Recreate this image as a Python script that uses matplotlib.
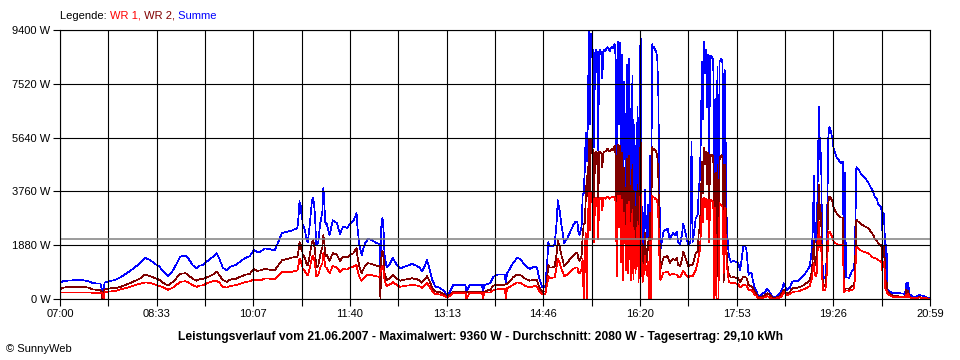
import numpy as np
import matplotlib
matplotlib.use('Agg')
from matplotlib import pyplot as plt

plt.rcParams['font.family'] = ['Liberation Sans', 'DejaVu Sans']

# minutes after 07:00
minutes = [0, 3, 10, 22, 28, 32, 39, 41, 42, 43,
           48, 53, 58, 63, 68, 74, 78, 82, 87, 92,
           95, 99, 104, 109, 116, 121, 123, 128, 132, 135,
           138, 142, 147, 151, 154, 157, 161, 164, 169, 174,
           178, 183, 187, 190, 193, 198, 207, 210, 214, 219,
           224, 229, 230, 231, 232, 233, 234, 236, 238, 239,
           241, 243, 244, 245, 246, 247, 249, 251, 253, 254,
           255, 256, 257, 260, 263, 267, 270, 273, 277, 280,
           283, 286, 287, 289, 291, 292, 294, 297, 301, 304,
           307, 308, 309, 310, 311, 312, 313, 315, 318, 321,
           325, 328, 333, 338, 339, 344, 347, 349, 352, 354,
           356, 359, 362, 366, 371, 373, 376, 379, 383, 391,
           392, 395, 407, 408, 409, 415, 418, 422, 427, 429,
           430, 431, 434, 437, 441, 444, 448, 453, 458, 460,
           462, 465, 468, 470, 471, 472, 474, 477, 479, 480,
           482, 484, 485, 486, 489, 492, 495, 497, 499, 500,
           501, 503, 504, 505, 506, 507, 508, 509, 510, 511,
           512, 513, 514, 515, 516, 517, 518, 519, 520, 521,
           522, 523, 524, 525, 526, 527, 528, 529, 530, 531,
           532, 533, 534, 535, 536, 537, 538, 539, 540, 541,
           542, 543, 544, 545, 546, 547, 548, 549, 550, 551,
           552, 553, 554, 555, 556, 557, 558, 559, 560, 561,
           562, 563, 564, 565, 566, 567, 568, 569, 570, 571,
           572, 573, 574, 575, 576, 577, 578, 579, 582, 586,
           588, 591, 593, 595, 596, 598, 600, 601, 603, 605,
           606, 608, 609, 610, 611, 613, 615, 616, 617, 618,
           619, 620, 621, 622, 623, 624, 625, 626, 627, 628,
           629, 630, 631, 632, 633, 634, 635, 636, 637, 638,
           639, 640, 641, 643, 644, 645, 647, 650, 654, 656,
           659, 661, 662, 664, 665, 667, 668, 670, 672, 673,
           675, 678, 680, 682, 685, 688, 691, 694, 696, 698,
           701, 704, 706, 709, 712, 714, 717, 720, 723, 724,
           725, 726, 727, 728, 729, 730, 731, 732, 733, 734,
           735, 736, 738, 739, 740, 741, 742, 743, 745, 746,
           748, 749, 751, 753, 755, 756, 757, 758, 761, 762,
           764, 765, 766, 767, 768, 769, 771, 773, 776, 779,
           781, 784, 786, 788, 789, 791, 792, 793, 794, 795,
           796, 797, 798, 800, 803, 810, 815, 816, 817, 818,
           819, 822, 825, 828, 829, 833, 836, 839]

wr1 = [220, 230, 230, 230, 225, 220, 220, 220, 0, 240,
       260, 280, 330, 380, 430, 500, 540, 580, 560, 500,
       470, 420, 320, 400, 600, 620, 600, 480, 430, 470,
       480, 560, 620, 650, 560, 430, 400, 450, 480, 530,
       580, 620, 680, 660, 650, 720, 700, 800, 950, 950,
       950, 1000, 1180, 1420, 1250, 1350, 1050, 980, 850, 820,
       1100, 1450, 1500, 1400, 1200, 800, 820, 1100, 1250, 1600,
       1350, 1100, 1100, 900, 1150, 1100, 950, 1050, 1030, 1100,
       1130, 1200, 1000, 740, 640, 690, 780, 850, 830, 800,
       780, 780, 900, 1100, 1150, 1000, 640, 460, 500, 600,
       480, 430, 460, 480, 500, 470, 440, 390, 480, 560,
       450, 270, 170, 160, 100, 50, 100, 221, 221, 221,
       0, 221, 221, 0, 221, 230, 310, 340, 360, 360,
       0, 370, 430, 500, 580, 560, 470, 400, 460, 440,
       290, 163, 170, 560, 800, 740, 740, 760, 1129, 1400,
       1250, 1000, 950, 800, 850, 950, 1050, 1100, 1100, 920,
       900, 1030, 1400, 0, 1800, 2300, 0, 2500, 3760, 2400,
       3700, 3550, 3500, 2000, 3500, 3550, 3500, 2100, 3500, 3550,
       3500, 3100, 3550, 3550, 3500, 3550, 3560, 3550, 3500, 3550,
       3550, 3560, 3560, 3550, 3350, 800, 3600, 2500, 3600, 1300,
       3450, 650, 3000, 2200, 1000, 3300, 900, 3400, 1400, 650,
       3100, 700, 2400, 900, 1800, 2700, 600, 3400, 3650, 1100,
       600, 900, 1500, 1100, 850, 1300, 0, 2000, 0, 3600,
       3550, 3550, 3500, 3500, 3400, 2900, 1500, 650, 920, 950,
       840, 880, 860, 850, 780, 760, 900, 980, 880, 780,
       760, 800, 800, 800, 850, 1000, 1300, 1500, 1700, 2300,
       3500, 2700, 3550, 3200, 3500, 2800, 3450, 2000, 3450, 3450,
       3400, 3400, 0, 3200, 0, 0, 0, 3350, 3300, 3280,
       3200, 900, 3200, 1150, 950, 600, 560, 560, 520, 410,
       500, 480, 470, 320, 320, 300, 280, 150, 100, 30,
       20, 40, 60, 100, 40, 0, 20, 50, 100, 240,
       130, 170, 230, 260, 260, 300, 340, 380, 450, 580,
       700, 1000, 1250, 850, 800, 950, 2060, 2700, 1800, 1900,
       750, 300, 320, 500, 1400, 2300, 2350, 2300, 2150, 2000,
       1950, 1920, 1900, 1900, 1900, 250, 260, 300, 290, 300,
       320, 330, 400, 1000, 1830, 1800, 1740, 1680, 1640, 1600,
       1560, 1450, 1420, 1400, 1360, 1320, 1310, 1000, 1300, 1280,
       300, 320, 180, 130, 80, 60, 60, 160, 60, 190,
       60, 30, 20, 50, 50, 40, 20, 5]

wr2 = [340, 400, 420, 430, 390, 330, 320, 0, 320, 330,
       370, 380, 420, 490, 560, 660, 730, 860, 800, 720,
       690, 580, 470, 600, 880, 900, 860, 700, 640, 700,
       700, 760, 840, 960, 820, 660, 600, 680, 700, 780,
       840, 880, 1040, 980, 1000, 1050, 1000, 1150, 1350, 1400,
       1450, 1480, 1700, 2000, 1750, 1900, 1550, 1450, 1200, 1180,
       1550, 2000, 2050, 1900, 1700, 1100, 1150, 1550, 1800, 2250,
       1900, 1500, 1550, 1330, 1600, 1550, 1330, 1480, 1450, 1550,
       1600, 1780, 1450, 1080, 900, 1000, 1150, 1250, 1220, 1180,
       1150, 1150, 0, 1600, 1680, 1450, 900, 660, 730, 830,
       700, 640, 680, 710, 730, 690, 650, 570, 700, 800,
       650, 390, 260, 240, 160, 90, 150, 256, 256, 256,
       256, 256, 256, 256, 256, 330, 470, 500, 500, 500,
       520, 520, 640, 760, 860, 840, 720, 640, 680, 660,
       440, 256, 260, 820, 1190, 1100, 1100, 1130, 1596, 2050,
       1800, 1450, 1350, 1150, 1250, 1400, 1530, 1600, 1600, 1380,
       1330, 1500, 2200, 2600, 2650, 3500, 4300, 3600, 5600, 3700,
       5550, 5250, 5200, 3300, 5100, 5150, 5100, 3100, 5150, 5150,
       5100, 4600, 5100, 5150, 5150, 5200, 5250, 5200, 5150, 5200,
       5250, 5200, 5300, 5350, 4950, 1200, 5400, 3600, 5350, 1700,
       5100, 1000, 4600, 3300, 1500, 4900, 1300, 5000, 2100, 900,
       4700, 1100, 3700, 1200, 2700, 4000, 900, 5000, 5450, 1700,
       900, 1300, 2300, 1600, 1300, 2000, 1700, 3000, 2000, 5300,
       5200, 5250, 5200, 5150, 5000, 4300, 2300, 1050, 1450, 1500,
       1250, 1420, 1350, 1450, 1200, 1150, 1400, 1650, 1450, 1250,
       1150, 1200, 1200, 1200, 1300, 1600, 1650, 2350, 2500, 3300,
       4800, 3700, 5300, 4700, 5150, 4000, 5100, 2900, 5050, 5050,
       5000, 5000, 1500, 4400, 1200, 4700, 300, 4850, 5000, 5030,
       4900, 600, 4700, 1450, 1100, 850, 750, 760, 720, 600,
       790, 760, 740, 490, 480, 420, 380, 250, 150, 80,
       70, 100, 130, 200, 140, 20, 60, 100, 200, 310,
       180, 250, 370, 380, 400, 430, 480, 560, 670, 800,
       950, 1450, 2050, 1300, 1200, 1450, 2990, 3980, 2800, 3000,
       900, 450, 480, 800, 2000, 3400, 3580, 3550, 3400, 3200,
       3050, 3000, 2900, 2850, 2850, 330, 340, 370, 360, 380,
       450, 460, 540, 1500, 2780, 2720, 2680, 2600, 2540, 2480,
       2400, 2250, 2100, 2030, 1950, 1900, 1880, 1250, 1870, 1850,
       430, 650, 250, 190, 110, 90, 85, 320, 85, 290,
       80, 30, 20, 60, 60, 50, 25, 5]

summe = [560, 630, 650, 660, 615, 550, 540, 220, 320, 570,
         630, 660, 750, 870, 990, 1160, 1270, 1440, 1360, 1220,
         1160, 1000, 790, 1000, 1480, 1520, 1460, 1180, 1070, 1170,
         1180, 1320, 1460, 1610, 1380, 1090, 1000, 1130, 1180, 1310,
         1420, 1500, 1720, 1640, 1650, 1770, 1700, 1950, 2300, 2350,
         2400, 2480, 2880, 3420, 3000, 3250, 2600, 2430, 2050, 2000,
         2650, 3450, 3550, 3300, 2900, 1900, 1970, 2650, 3050, 3900,
         3250, 2600, 2650, 2230, 2750, 2650, 2280, 2530, 2480, 2650,
         2730, 3000, 2450, 1820, 1540, 1690, 1930, 2100, 2050, 1980,
         1930, 1930, 900, 2700, 2830, 2450, 1540, 1120, 1230, 1430,
         1180, 1070, 1140, 1190, 1230, 1160, 1090, 960, 1180, 1360,
         1100, 660, 430, 400, 260, 140, 250, 480, 480, 480,
         256, 480, 480, 256, 480, 560, 780, 850, 860, 860,
         520, 890, 1070, 1260, 1440, 1400, 1190, 1050, 1140, 1100,
         730, 420, 430, 1380, 1990, 1840, 1840, 1890, 2725, 3450,
         3050, 2450, 2300, 1950, 2100, 2350, 2580, 2700, 2700, 2300,
         2230, 2530, 3600, 3700, 4450, 5800, 4800, 6100, 9360, 6100,
         9250, 8800, 8700, 5300, 8600, 8700, 8600, 5200, 8650, 8700,
         8600, 7700, 8650, 8700, 8650, 8750, 8810, 8750, 8650, 8750,
         8800, 8760, 8860, 8900, 8300, 2000, 9000, 6100, 8950, 3000,
         8550, 1650, 7600, 5500, 2500, 8200, 2200, 8400, 3500, 1550,
         7800, 1800, 6100, 2100, 4500, 6700, 1500, 8400, 9100, 2800,
         1500, 2200, 3800, 2700, 2150, 3300, 1700, 5000, 2000, 8900,
         8750, 8800, 8700, 8650, 8400, 7200, 3800, 1700, 2370, 2450,
         2090, 2300, 2230, 2350, 2000, 1890, 2300, 2630, 2350, 2000,
         1890, 2000, 5500, 2000, 2200, 2800, 2950, 3850, 4200, 5600,
         8300, 6300, 9000, 7900, 8700, 6700, 8550, 4900, 8500, 8500,
         8400, 8400, 2100, 7000, 2100, 8100, 400, 8300, 8350, 8400,
         8200, 1500, 8000, 2600, 2000, 1500, 1300, 1330, 1250, 1010,
         1850, 1830, 1700, 840, 900, 900, 660, 400, 250, 140,
         90, 200, 230, 370, 200, 40, 80, 200, 300, 550,
         310, 400, 600, 640, 620, 730, 830, 950, 1150, 1400,
         1700, 2450, 4300, 2200, 2000, 2450, 4970, 6700, 4900, 5100,
         1600, 700, 750, 1150, 3300, 5700, 6000, 5900, 5600, 5250,
         5050, 4950, 4850, 4750, 4800, 580, 4400, 760, 740, 830,
         1000, 1020, 1200, 2500, 4620, 4570, 4480, 4330, 4250, 4100,
         3960, 3760, 3550, 3480, 3300, 3250, 3200, 2400, 3000, 2900,
         700, 1900, 330, 260, 200, 200, 180, 550, 180, 560,
         180, 80, 50, 140, 130, 110, 50, 10]

assert len(minutes) == len(wr1) == len(wr2) == len(summe)

average = 2080
y_ticks = [0, 1880, 3760, 5640, 7520, 9400]
x_labels = ['07:00', '08:33', '10:07', '11:40', '13:13',
            '14:46', '16:20', '17:53', '19:26', '20:59']
title = ('Leistungsverlauf vom 21.06.2007 - Maximalwert: 9360 W - '
         'Durchschnitt: 2080 W - Tagesertrag: 29,10 kWh')

fig = plt.figure(figsize=(9.6, 3.6), dpi=100)
ax = fig.add_axes([60/960, 61/360, 870/960, 269/360])

ax.plot(minutes, summe, color='#0000ff', lw=0.5, antialiased=False)
ax.plot(minutes, wr2, color='#800000', lw=0.5, antialiased=False)
ax.plot(minutes, wr1, color='#ff0000', lw=0.5, antialiased=False)
ax.axhline(average, color='#808080', lw=1.1, zorder=4)

ax.set_xlim(0, 839)
ax.set_ylim(0, 9400)
ax.set_xticks(np.linspace(0, 839, 10))
ax.set_xticklabels(x_labels)
ax.set_xticks(np.linspace(0, 839, 19), minor=True)
ax.set_yticks(y_ticks)
ax.set_yticklabels([f'{v} W' for v in y_ticks])
ax.grid(True, which='both', color='k', lw=0.8)
ax.set_axisbelow(False)
ax.tick_params(which='both', direction='out', length=5, width=0.8,
               color='k', labelsize=8, pad=2)
for s in ax.spines.values():
    s.set_linewidth(0.8)
    s.set_zorder(5)

# legend line on top
t = fig.text(60/960, 1 - 16/360, 'Legende: ', fontsize=8, va='center', ha='left')
for txt, col in [('WR 1,', '#ff0000'), (' WR 2,', '#800000'), (' Summe', '#0000ff')]:
    t = ax.annotate(txt, xy=(1, 0), xycoords=t, va='bottom', ha='left',
                    fontsize=8, color=col, annotation_clip=False)

fig.text(0.5, 1 - 337/360, title, ha='center', va='center',
         fontsize=8.7, fontweight='bold')
fig.text(6/960, 1 - 349/360, '\u00a9 SunnyWeb', ha='left', va='center', fontsize=8)

fig.savefig('out.png', dpi=100)
